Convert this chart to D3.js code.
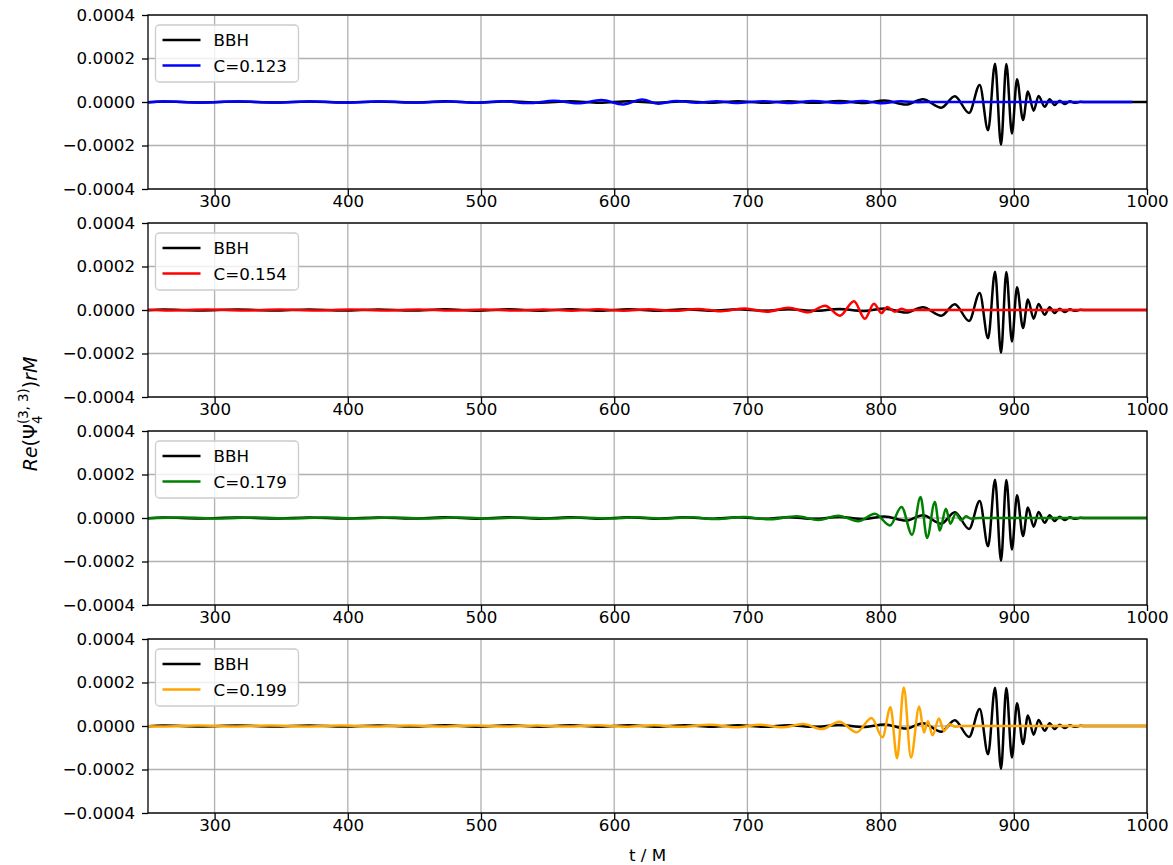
<!DOCTYPE html>
<html>
<head>
<meta charset="utf-8">
<script src="https://cdn.jsdelivr.net/npm/d3@7"></script>
<style>
body{margin:0;background:#fff}
text{font-family:"DejaVu Sans",sans-serif}
</style>
</head>
<body>
<div class="chart"></div>
<script>
// turning points [t/M, Re(psi4) rM]
const bbh=[[250,-1.5e-6],[261,2e-6],[289,-2e-6],[317,2e-6],[344,-2.5e-6],[371,2.5e-6],[397,-2.5e-6],[423,2.5e-6],
	[448,-2.5e-6],[473,3e-6],[497,-3e-6],[521,3e-6],[544,-3e-6],[567,3e-6],[589,-3.5e-6],[611,3.5e-6],[632,-3.5e-6],
	[653,3.5e-6],[673,-3.5e-6],[693,3.5e-6],[712,-4e-6],[731,4e-6],[750,-4e-6],[769,5e-6],[787,-5e-6],[803,7e-6],
	[819,-1.2e-5],[831.7,1.3e-5],[845.6,-2.6e-5],[855.7,2.7e-5],[866.4,-5e-5],[874.4,7.8e-5],[880.7,-1.3e-4],
	[885.9,1.76e-4],[890.4,-1.97e-4],[894.4,1.75e-4],[898.6,-1.45e-4],[902.4,1.05e-4],[906.9,-8.3e-5],[910.6,4.8e-5],
	[914.9,-4e-5],[918.6,2.8e-5],[923.2,-2.2e-5],[926.9,1.3e-5],[930.7,-1.4e-5],[934.4,6e-6],[938.2,-9e-6],[942,3e-6],
	[946,-4e-6],[950,1e-6],[955,0],[1000,0]]

const c123=[[250,-1.5e-6],[262,2e-6],[290,-2e-6],[318,2e-6],[346,-2e-6],[373,2e-6],[400,-2e-6],[426,2e-6],[452,-2.5e-6],
	[476,2.5e-6],[495,-3e-6],[516,3e-6],[535.6,-5e-6],[554.8,6e-6],[572.6,-6e-6],[590.4,9e-6],[606.7,-1.1e-5],
	[620.9,1.2e-5],[633.3,-8e-6],[646.7,5e-6],[662,-3e-6],[677,4e-6],[691,-5e-6],[712,4e-6],[731.8,-4.6e-6],
	[749,4.6e-6],[769,-4.6e-6],[786.5,5e-6],[801,-6e-6],[815,3e-6],[828,-1e-6],[840,0],[989,0]]

const c154=[[250,1.5e-6],[266,-2e-6],[294,2e-6],[322,-2e-6],[349,2e-6],[376,-2e-6],[402,2e-6],[428,-2e-6],[453,2.5e-6],
	[478,-2.5e-6],[502,2.5e-6],[525,-2.5e-6],[547,2.5e-6],[568,-3e-6],[588,3e-6],[607,-3e-6],[626,3e-6],[644,-4e-6],
	[663,5e-6],[680,-6e-6],[698,7e-6],[714.5,-7.7e-6],[730.7,1.07e-5],[745.7,-1.07e-5],[758.3,2e-5],[769.4,-2.6e-5],
	[780,4e-5],[788.2,-4e-5],[795,2.9e-5],[800.7,-1.4e-5],[805,1.4e-5],[810.7,-7.7e-6],[815.6,6e-6],[820,-2e-6],
	[826,0],[1000,0]]

const c179=[[250,-1.5e-6],[276,2e-6],[303,-2e-6],[330,2e-6],[357,-2e-6],[383,2e-6],[409,-2e-6],[434,2e-6],[459,-2e-6],
	[483,2e-6],[507,-2e-6],[530,2.5e-6],[553,-2.5e-6],[575,2.5e-6],[596,-2.5e-6],[617,3e-6],[637,-3e-6],[657,3e-6],
	[677,-5e-6],[697,4.6e-6],[717,-6e-6],[737,7.7e-6],[753.2,-9e-6],[768.2,1.07e-5],[783.2,-1.5e-5],[795.7,2e-5],
	[807,-3.4e-5],[815.7,5.1e-5],[823.6,-7.7e-5],[830,9.6e-5],[834.9,-9.2e-5],[840.7,7.4e-5],[844.5,-5.7e-5],
	[849,4.3e-5],[852.4,-2.6e-5],[856.4,2e-5],[860.7,-1.1e-5],[864,7.7e-6],[868,-3e-6],[874,0],[1000,0]]

const c199=[[250,-1e-6],[261,-2e-6],[288,2e-6],[315,-2e-6],[342,2e-6],[369,-2e-6],[395,2e-6],[421,-2e-6],[446,2e-6],
	[471,-2e-6],[495,2e-6],[519,-2.5e-6],[542,2.5e-6],[565,-2.5e-6],[587,3e-6],[609,-3e-6],[630,4e-6],[651,-4e-6],
	[672,6e-6],[692,-6e-6],[709.5,6e-6],[725.8,-6e-6],[742,9e-6],[755.7,-1.4e-5],[769,2e-5],[782,-2.9e-5],
	[793.2,3.7e-5],[801.4,-5.2e-5],[807.4,8.6e-5],[812.4,-1.48e-4],[817.4,1.77e-4],[822.8,-1.45e-4],[829,9e-5],
	[832.5,-3e-5],[835.5,2.2e-5],[839,-4.3e-5],[843.8,3.4e-5],[847.5,-2.2e-5],[852,8e-6],[856,-4e-6],[860,0],[1000,0]]

const runs=[c123,c154,c179,c199]
const labels=['C=0.123','C=0.154','C=0.179','C=0.199']
const xTicks=[300,400,500,600,700,800,900,1000]
const yTicks=[-0.0004,-0.0002,0,0.0002,0.0004]

const width=1173,height=865
const left=148,right=1147,panelH=174,firstTop=15,step=208
const colors=['blue','red','green','orange']
const fontSize=16.7

let svg=d3.select('.chart').append('svg')
	.attr('width',width)
	.attr('height',height)

let tScale=d3.scaleLinear()
	.domain([250,1000])
	.range([left,right])

runs.forEach((run,i)=>{
	const top=firstTop+i*step

	let psiScale=d3.scaleLinear()
		.domain([-0.0004,0.0004])
		.range([top+panelH,top])

	let line=d3.line()
		.x(d=>tScale(d[0]))
		.y(d=>psiScale(d[1]))
		.curve(d3.curveMonotoneX)

	svg.append('clipPath').attr('id','clip'+i)
		.append('rect')
		.attr('x',left).attr('y',top)
		.attr('width',right-left).attr('height',panelH)

	let g=svg.append('g')

	// grid
	g.selectAll()
		.data(xTicks)
		.enter()
		.append('line')
		.attr('x1',d=>tScale(d)).attr('x2',d=>tScale(d))
		.attr('y1',top).attr('y2',top+panelH)
		.attr('stroke','#b0b0b0').attr('stroke-width',1.3)
	g.selectAll()
		.data(yTicks)
		.enter()
		.append('line')
		.attr('x1',left).attr('x2',right)
		.attr('y1',d=>psiScale(d)).attr('y2',d=>psiScale(d))
		.attr('stroke','#b0b0b0').attr('stroke-width',1.3)

	g.append('path')
		.datum(bbh)
		.attr('d',line)
		.attr('fill','none')
		.attr('stroke','black')
		.attr('stroke-width',2.5)
		.attr('stroke-linejoin','round')
		.attr('clip-path','url(#clip'+i+')')

	g.append('path')
		.datum(run)
		.attr('d',line)
		.attr('fill','none')
		.attr('stroke',colors[i])
		.attr('stroke-width',2.5)
		.attr('stroke-linejoin','round')
		.attr('clip-path','url(#clip'+i+')')

	const xAxis=d3.axisBottom(tScale)
		.tickValues(xTicks)
		.tickSize(6)
		.tickPadding(0)
		.tickFormat(d3.format('d'))
	const yAxis=d3.axisLeft(psiScale)
		.tickValues(yTicks)
		.tickSize(6)
		.tickPadding(7)
		.tickFormat(d3.format('.4f'))

	g.append('g')
		.attr('class','axis x-axis')
		.attr('transform',`translate(0,${top+panelH})`)
		.call(xAxis)
	g.append('g')
		.attr('class','axis y-axis')
		.attr('transform',`translate(${left},0)`)
		.call(yAxis)

	g.append('rect')
		.attr('x',left).attr('y',top)
		.attr('width',right-left).attr('height',panelH)
		.attr('fill','none')
		.attr('stroke','black')
		.attr('stroke-width',1.3)

	// legend
	let leg=g.append('g').attr('transform',`translate(${left+7.5},${top+10})`)
	leg.append('rect')
		.attr('width',143).attr('height',57).attr('rx',4)
		.attr('fill','white').attr('fill-opacity',0.8)
		.attr('stroke','#cccccc').attr('stroke-width',1.3)
	leg.selectAll()
		.data([['BBH','black'],[labels[i],colors[i]]])
		.enter()
		.append('line')
		.attr('x1',7).attr('x2',45)
		.attr('y1',(d,j)=>15+j*25.5).attr('y2',(d,j)=>15+j*25.5)
		.attr('stroke',d=>d[1])
		.attr('stroke-width',2.5)
	leg.selectAll()
		.data([['BBH','black'],[labels[i],colors[i]]])
		.enter()
		.append('text')
		.attr('x',58)
		.attr('y',(d,j)=>15+j*25.5)
		.attr('dy','0.36em')
		.attr('font-size',fontSize)
		.text(d=>d[0])
})

svg.selectAll('.axis path.domain').remove()
svg.selectAll('.axis line').attr('stroke','black').attr('stroke-width',1.3)
svg.selectAll('.axis text')
	.attr('font-size',fontSize)
	.attr('font-family','DejaVu Sans')
	.attr('fill','black')

svg.append('text')
	.attr('x',(left+right)/2)
	.attr('y',861)
	.attr('text-anchor','middle')
	.attr('font-size',fontSize)
	.text('t / M')

let ylab=svg.append('text')
	.attr('transform',`translate(37,${firstTop+(3*step+panelH)/2}) rotate(-90)`)
	.attr('text-anchor','middle')
	.attr('font-size',19)
ylab.append('tspan').attr('font-style','italic').text('Re')
ylab.append('tspan').text('(Ψ')
ylab.append('tspan').attr('font-size',13.3).attr('dy',5).text('4')
ylab.append('tspan').attr('font-size',13.3).attr('dx',-8.5).attr('dy',-14).text('(3, 3)')
ylab.append('tspan').attr('dy',9).text(')')
ylab.append('tspan').attr('font-style','italic').text('rM')
</script>
</body>
</html>
